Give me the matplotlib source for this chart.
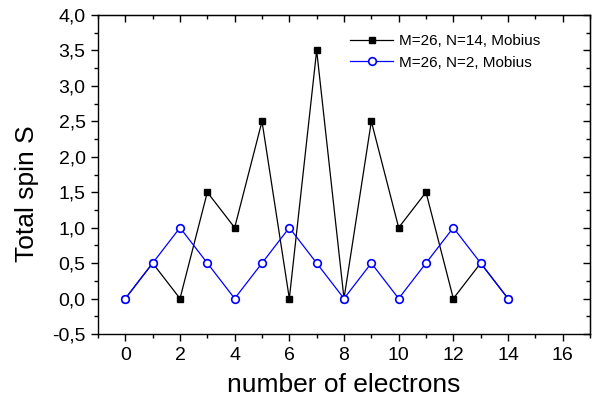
import numpy as np
import matplotlib.pyplot as plt
from matplotlib.ticker import MultipleLocator, FuncFormatter

plt.rcParams['font.family'] = ['Liberation Sans', 'DejaVu Sans']

# data
electrons = [0, 1, 2, 3, 4, 5, 6, 7, 8, 9, 10, 11, 12, 13, 14]
spin_n14 = [0, 0.5, 0, 1.5, 1, 2.5, 0, 3.5, 0, 2.5, 1, 1.5, 0, 0.5, 0]
spin_n2 = [0, 0.5, 1, 0.5, 0, 0.5, 1, 0.5, 0, 0.5, 0, 0.5, 1, 0.5, 0]

fig = plt.figure(figsize=(6.1, 4.03), dpi=100)
ax = fig.add_axes([98 / 610, 1 - 334 / 403, 492 / 610, 319 / 403])

ax.plot(electrons, spin_n14, color='black', lw=0.9, marker='s', ms=5,
        mfc='black', mec='black', label='M=26, N=14, Mobius')
ax.plot(electrons, spin_n2, color='blue', lw=0.9, marker='o', ms=5.5,
        mfc='white', mec='blue', mew=1.2, label='M=26, N=2, Mobius')

ax.set_xlim(-1, 17)
ax.set_ylim(-0.5, 4.0)
ax.xaxis.set_major_locator(MultipleLocator(2))
ax.xaxis.set_minor_locator(MultipleLocator(1))
ax.yaxis.set_major_locator(MultipleLocator(0.5))
ax.yaxis.set_minor_locator(MultipleLocator(0.25))
ax.yaxis.set_major_formatter(FuncFormatter(lambda v, p: f'{v:.1f}'.replace('.', ',')))

ax.tick_params(which='both', direction='out', labelsize=14, width=1)
ax.tick_params(which='major', length=5, pad=4)
ax.tick_params(which='minor', length=3)
# mirrored ticks on top/right pointing inward
axt = ax.secondary_xaxis('top')
axt.xaxis.set_major_locator(MultipleLocator(2))
axt.xaxis.set_minor_locator(MultipleLocator(1))
axt.tick_params(which='both', direction='in', labeltop=False, width=1)
axt.tick_params(which='major', length=5)
axt.tick_params(which='minor', length=3)
axr = ax.secondary_yaxis('right')
axr.yaxis.set_major_locator(MultipleLocator(0.5))
axr.yaxis.set_minor_locator(MultipleLocator(0.25))
axr.tick_params(which='both', direction='in', labelright=False, width=1)
axr.tick_params(which='major', length=5)
axr.tick_params(which='minor', length=3)

for s in ax.spines.values():
    s.set_linewidth(1)

ax.set_xlabel('number of electrons', fontsize=19, labelpad=7)
ax.set_ylabel('Total spin S', fontsize=19)
ax.yaxis.set_label_coords(-0.12, 0.44)

ax.legend(loc='upper left', frameon=False, fontsize=11, handlelength=2.8,
          handletextpad=0.4, labelspacing=0.5, borderaxespad=0,
          bbox_to_anchor=(0.5, 0.96))

fig.savefig('out.png', dpi=100)
